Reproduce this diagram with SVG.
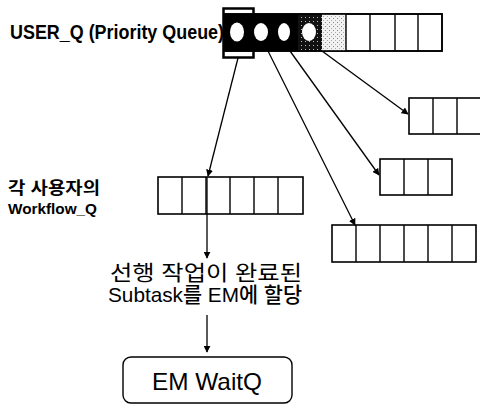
<svg xmlns="http://www.w3.org/2000/svg" width="480" height="405" viewBox="0 0 480 405">
  <defs>
    <style>
      .q { fill: #fff; stroke: #000; stroke-width: 1.6; }
      .div { stroke: #000; stroke-width: 1.4; }
      .lbl { font-family: "Liberation Sans", "Noto Sans CJK KR", sans-serif; fill: #000; }
      .b { font-weight: bold; }
      .edge { stroke: #000; stroke-width: 1.3; fill: none; marker-end: url(#arrow); }
    </style>
    <marker id="arrow" viewBox="0 0 10 10" refX="9" refY="5" markerWidth="7" markerHeight="7" orient="auto" markerUnits="userSpaceOnUse">
      <path d="M0,0 L10,5 L0,10 z" fill="#000"/>
    </marker>
    <pattern id="darkDots" width="4" height="4" patternUnits="userSpaceOnUse">
      <rect width="4" height="4" fill="#111"/>
      <rect x="1" y="1" width="1" height="1" fill="#bbb"/>
    </pattern>
    <pattern id="lightDots" width="4" height="4" patternUnits="userSpaceOnUse">
      <rect width="4" height="4" fill="#f2f2f2"/>
      <rect x="1" y="2" width="1" height="1" fill="#888"/>
      <rect x="3" y="0" width="1" height="1" fill="#aaa"/>
    </pattern>
  </defs>

  <rect width="480" height="405" fill="#fff"/>

  <!-- priority queue of users -->
  <g id="user-q">
    <text class="lbl b" x="10" y="39" font-size="19.5" textLength="214" lengthAdjust="spacingAndGlyphs">USER_Q (Priority Queue)</text>
    <rect x="223.5" y="8.5" width="30" height="49" fill="#fff" stroke="#000" stroke-width="2.5"/>
    <rect x="224" y="14" width="218" height="37" class="q"/>
    <rect x="224" y="14" width="74" height="37" fill="#000"/>
    <rect x="298" y="14" width="24" height="37" fill="url(#darkDots)"/>
    <rect x="322" y="14" width="24" height="37" fill="url(#lightDots)"/>
    <line class="div" x1="346" y1="14" x2="346" y2="51"/>
    <line class="div" x1="370" y1="14" x2="370" y2="51"/>
    <line class="div" x1="395" y1="14" x2="395" y2="51"/>
    <line class="div" x1="418" y1="14" x2="418" y2="51"/>
    <rect x="224" y="14" width="218" height="37" fill="none" stroke="#000" stroke-width="1.6"/>
    <ellipse cx="237" cy="32" rx="7" ry="9.5" fill="#fff"/>
    <ellipse cx="261" cy="32" rx="7" ry="9" fill="#fff"/>
    <ellipse cx="284" cy="32" rx="6" ry="9" fill="#fff"/>
    <ellipse cx="309" cy="32" rx="7" ry="9" fill="#fff"/>
  </g>

  <!-- per-user workflow queue -->
  <g id="workflow-q">
    <text class="lbl b" x="8" y="194" font-size="16.5" textLength="92" lengthAdjust="spacingAndGlyphs">각 사용자의</text>
    <text class="lbl b" x="8" y="214" font-size="15.5" textLength="89" lengthAdjust="spacingAndGlyphs">Workflow_Q</text>
    <rect x="158" y="177" width="145" height="37" class="q"/>
    <line class="div" x1="182" y1="177" x2="182" y2="214"/>
    <line class="div" x1="206" y1="177" x2="206" y2="214"/>
    <line class="div" x1="230" y1="177" x2="230" y2="214"/>
    <line class="div" x1="254" y1="177" x2="254" y2="214"/>
    <line class="div" x1="278" y1="177" x2="278" y2="214"/>
  </g>

  <!-- other users' queues -->
  <g id="queue-a">
    <rect x="409" y="98" width="73" height="36" class="q"/>
    <line class="div" x1="433" y1="98" x2="433" y2="134"/>
    <line class="div" x1="457" y1="98" x2="457" y2="134"/>
  </g>
  <g id="queue-b">
    <rect x="380" y="159" width="72" height="36" class="q"/>
    <line class="div" x1="404" y1="159" x2="404" y2="195"/>
    <line class="div" x1="428" y1="159" x2="428" y2="195"/>
  </g>
  <g id="queue-c">
    <rect x="332" y="225" width="144" height="37" class="q"/>
    <line class="div" x1="356" y1="225" x2="356" y2="262"/>
    <line class="div" x1="380" y1="225" x2="380" y2="262"/>
    <line class="div" x1="404" y1="225" x2="404" y2="262"/>
    <line class="div" x1="428" y1="225" x2="428" y2="262"/>
    <line class="div" x1="452" y1="225" x2="452" y2="262"/>
  </g>

  <!-- dispatch step -->
  <g id="dispatch">
    <text class="lbl" x="110" y="280" font-size="21" textLength="192" lengthAdjust="spacingAndGlyphs">선행 작업이 완료된</text>
    <text class="lbl" x="108" y="302" font-size="21" font-weight="500" textLength="194" lengthAdjust="spacingAndGlyphs">Subtask를 EM에 할당</text>
  </g>

  <!-- engine manager wait queue -->
  <g id="em-waitq">
    <rect x="123" y="357" width="169" height="46" rx="8" ry="8" fill="#fff" stroke="#000" stroke-width="1.4"/>
    <text class="lbl" x="152" y="390" font-size="24" textLength="110" lengthAdjust="spacingAndGlyphs">EM WaitQ</text>
  </g>

  <g id="connectors">
    <line class="edge" x1="238" y1="58" x2="208" y2="176"/>
    <line class="edge" x1="268" y1="51" x2="355" y2="225"/>
    <line class="edge" x1="290" y1="51" x2="379" y2="175"/>
    <line class="edge" x1="322" y1="51" x2="408" y2="114"/>
    <line class="edge" x1="207" y1="177" x2="207" y2="258"/>
    <line class="edge" x1="207" y1="315" x2="207" y2="352"/>
  </g>
</svg>
